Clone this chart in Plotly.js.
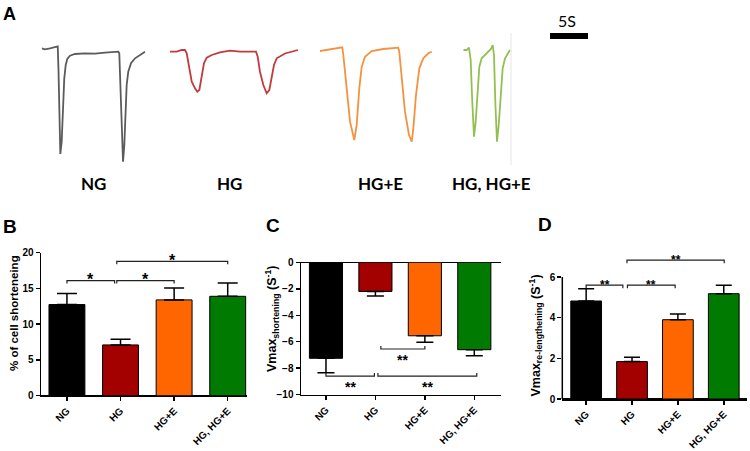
<!DOCTYPE html>
<html>
<head>
<meta charset="utf-8">
<script src="https://cdn.plot.ly/plotly-3.0.1.min.js"></script>
<style>html,body{margin:0;padding:0;background:#fff;}#chart{width:750px;height:451px;}</style>
</head>
<body>
<div id="chart"></div>
<script>
// ---------- Data ----------
const categories = ['NG', 'HG', 'HG+E', 'HG, HG+E'];
const barColors = ['#000000', '#a30000', '#ff6600', '#007a00'];

// B: % of cell shortening
const shortening = [12.75, 7.1, 13.4, 13.9];
const shorteningErr = [1.55, 0.8, 1.65, 1.85];
// C: Vmax shortening (S^-1)
const vmaxShort = [-7.25, -2.2, -5.55, -6.6];
const vmaxShortErr = [1.1, 0.35, 0.48, 0.45];
// D: Vmax re-lengthening (S^-1)
const vmaxRelen = [4.82, 1.84, 3.9, 5.18];
const vmaxRelenErr = [0.6, 0.21, 0.28, 0.42];

// axis titles
const titleB = '% of cell shorteneing';
const titleC = 'Vmax<sub>shortening</sub> (S<sup>-1</sup>)';
const titleD = 'Vmax<sub>re-lengthening</sub> (S<sup>-1</sup>)';

// significance brackets: [x start, x end, level, label]
const bracketsB = [[0, 0.89, 16.1, '*'], [0.93, 2, 16.1, '*'], [0.93, 3, 18.8, '*']];
const bracketsC = [[0, 0.98, -8.6, '**'], [1.11, 2, -6.55, '**'], [1.05, 3.05, -8.6, '**']];
const bracketsD = [[0, 0.8, 5.6, '**'], [0.9, 1.94, 5.6, '**'], [0.89, 3.01, 6.83, '**']];

// A: representative cell length traces (time in s, length change in a.u.)
const ngTime = [0, 0.43, 1.09, 1.75, 2.11, 2.21, 2.34, 2.45, 2.63, 2.84, 2.97, 3.16, 3.37, 3.72, 4.38, 5.7, 7.01, 8.33, 9.64, 10.08, 10.21, 10.34, 10.53, 10.7, 10.87, 11.0, 11.18, 11.39, 11.75, 12.28, 12.93, 13.59];
const ngLen = [1.7, 0.7, 1.7, 2.7, 3.7, -20, -70, -104, -91.7, -51.7, -28.3, -15, -9, -5.7, -4, -3.3, -3.7, -2.7, -2, -1.7, -3.3, -35, -85, -111.7, -95, -61.7, -35, -21.7, -13.3, -8.3, -5, -1.7];
const hgTime = [0, 0.88, 1.54, 1.97, 2.2, 2.54, 2.86, 3.29, 3.59, 3.86, 4.17, 4.47, 4.83, 5.49, 6.58, 7.89, 9.21, 11.32, 11.54, 11.84, 12.28, 12.72, 13.07, 13.38, 13.68, 14.04, 15.13, 16.84];
const hgLen = [-1.7, -1.7, 0, 0, -3.3, -18.3, -31.7, -38.3, -41.7, -40, -28.3, -13.3, -7.7, -5, -2.3, -0.7, -1.7, -1.7, -6.7, -21.7, -35, -43.3, -40, -28.3, -15, -8.3, -3.5, 0];
const hgeTime = [0, 1.32, 2.93, 3.07, 3.51, 3.95, 4.51, 4.83, 5.17, 5.49, 5.92, 6.8, 8.33, 10.3, 10.43, 10.75, 11.18, 11.71, 12.07, 12.28, 12.63, 13.07, 13.59, 14.25, 14.7];
const hgeLen = [-1, 1, 2.7, -5, -41.7, -71.7, -90, -75, -38.3, -16.7, -6.7, -1, 1, 2.3, -1.7, -28.3, -61.7, -85, -91.7, -78.3, -45, -18.3, -8.3, -3.3, -1.7];
const hghgeTime = [0, 0.45, 0.75, 0.97, 1.18, 1.41, 1.63, 1.89, 2.11, 2.42, 3.08, 3.64, 3.87, 4.04, 4.21, 4.43, 4.66, 4.92, 5.18, 5.49, 5.92, 6.14];
const hghgeLen = [0, 0, 2.3, -10, -51.7, -86.7, -71.7, -38.3, -16.7, -8.3, -3.3, 1, 5, -5, -51.7, -91.7, -75, -45, -18.3, -8.3, -2.3, 0];
const traceLabels = ['NG', 'HG', 'HG+E', 'HG, HG+E'];
const traceColors = ['#5b5b5b', '#c23b3b', '#f59240', '#92c050'];
const scaleBarTime = [0, 5];
const scaleBarLevel = [14, 14];
const scaleBarLabel = '5S';

// ---------- Layout helpers ----------
const W = 750, H = 451;
const FONT = 'Liberation Sans, Arial, sans-serif';
const tickIdx = [0, 1, 2, 3];

function barTrace(vals, errs, xa, ya, errWidth, negative) {
  const zeros = vals.map(() => 0);
  return {
    type: 'bar', x: tickIdx, y: vals, xaxis: xa, yaxis: ya, width: 0.67,
    marker: {color: barColors, line: {color: '#000', width: 1}},
    error_y: {type: 'data', symmetric: false,
      array: negative ? zeros : errs, arrayminus: negative ? errs : zeros,
      color: '#000', thickness: 1.5, width: errWidth},
    hoverinfo: 'skip'
  };
}

const data = [
  barTrace(shortening, shorteningErr, 'x', 'y', 10, false),
  barTrace(vmaxShort, vmaxShortErr, 'x2', 'y2', 8.5, true),
  barTrace(vmaxRelen, vmaxRelenErr, 'x3', 'y3', 8, false)
];

const traceSets = [[ngTime, ngLen], [hgTime, hgLen], [hgeTime, hgeLen], [hghgeTime, hghgeLen]];
traceSets.forEach((s, i) => {
  data.push({type: 'scatter', mode: 'lines', name: traceLabels[i], x: s[0], y: s[1], xaxis: 'x' + (4 + i), yaxis: 'y4',
    line: {color: traceColors[i], width: 1.8}, hoverinfo: 'skip'});
});
data.push({type: 'scatter', mode: 'lines', x: scaleBarTime, y: scaleBarLevel, xaxis: 'x8', yaxis: 'y4',
  line: {color: '#000', width: 6}, hoverinfo: 'skip'});

function catAxis(domainPx, range, anchor) {
  return {
    anchor: anchor, domain: [domainPx[0] / W, domainPx[1] / W], range: range, type: 'linear',
    tickvals: tickIdx, ticktext: categories, tickangle: -45,
    showline: true, linecolor: '#000', linewidth: 1.5,
    ticks: 'outside', ticklen: 4, tickwidth: 1.5, tickcolor: '#000',
    showgrid: false, zeroline: false, fixedrange: true,
    tickfont: {family: FONT, size: 10, color: '#000', weight: 'bold'}
  };
}
function valAxis(anchor, yTopPx, yBotPx, range, tickvals, showline) {
  return {
    anchor: anchor, domain: [1 - yBotPx / H, 1 - yTopPx / H], range: range,
    tickvals: tickvals, showline: showline, linecolor: '#000', linewidth: 1.5,
    ticks: 'outside', ticklen: 4, tickwidth: 1.5, tickcolor: '#000',
    showgrid: false, zeroline: true, zerolinecolor: '#000', zerolinewidth: 1.5, fixedrange: true,
    tickfont: {family: FONT, size: 10, color: '#000', weight: 'bold'}
  };
}

// A-panel trace axes: same time scale (7.6 px per s)
const aStarts = [41.7, 170, 320, 463.3, 550];
const aRange = 17.5, pxPerS = 7.6;

const layout = {
  width: W, height: H, margin: {l: 0, r: 0, t: 0, b: 0},
  paper_bgcolor: '#fff', plot_bgcolor: 'rgba(0,0,0,0)', showlegend: false,
  font: {family: FONT, color: '#000'},
  xaxis: catAxis([41, 247], [-0.484, 3.36], 'y'),
  yaxis: valAxis('x', 252.7, 395.7, [0, 20], [0, 5, 10, 15, 20], true),
  xaxis2: catAxis([301, 501], [-0.505, 3.54], 'y2'),
  yaxis2: valAxis('x2', 262.3, 394.7, [-10, 0], [0, -2, -4, -6, -8, -10], true),
  xaxis3: catAxis([562.3, 746.7], [-0.52, 3.5], 'y3'),
  yaxis3: valAxis('x3', 399 - 7 * 20.33, 399, [0, 7], [0, 2, 4, 6], false),
  yaxis4: {anchor: 'x4', domain: [1 - 175 / H, 1 - 10 / H], range: [-125, 40], visible: false, fixedrange: true},
  shapes: [],
  annotations: []
};
aStarts.forEach((s, i) => {
  layout['xaxis' + (4 + i)] = {anchor: 'y4', domain: [s / W, (s + aRange * pxPerS) / W], range: [0, aRange], visible: false, fixedrange: true};
});

// D y axis line stops at 6
layout.shapes.push({type: 'line', xref: 'paper', yref: 'y3', x0: 562.3 / W, x1: 562.3 / W, y0: 0, y1: 6, line: {color: '#000', width: 1.5}});
// faint frame line at the right of panel A
layout.shapes.push({type: 'line', xref: 'paper', yref: 'paper', x0: 511 / W, x1: 511 / W, y0: 1 - 165 / H, y1: 1 - 33 / H, line: {color: '#e6e6e6', width: 1}});

function addBrackets(list, xa, ya, tick, up, starSize, yshift) {
  list.forEach(b => {
    const [x1, x2, lv, lab] = b;
    const d = up ? tick : -tick;
    layout.shapes.push({type: 'path', xref: xa, yref: ya,
      path: `M${x1},${lv + d} L${x1},${lv} L${x2},${lv} L${x2},${lv + d}`,
      line: {color: '#222', width: 1.2}});
    layout.annotations.push({xref: xa, yref: ya, x: (x1 + x2) / 2, y: lv, text: lab, showarrow: false,
      xanchor: 'center', yanchor: 'middle', yshift: yshift,
      font: {family: FONT, size: starSize, color: '#000', weight: 'bold'}});
  });
}
addBrackets(bracketsB, 'x', 'y', 0.42, false, 16, 1);
addBrackets(bracketsC, 'x2', 'y2', 0.23, true, 14, -11);
addBrackets(bracketsD, 'x3', 'y3', 0.15, false, 12, 0);

// Y axis titles (rotated)
[[titleB, 14, 313, 11.5], [titleC, 272, 319, 12.5], [titleD, 535.5, 336, 12.5]].forEach(t => {
  layout.annotations.push({xref: 'paper', yref: 'paper', x: t[1] / W, y: 1 - t[2] / H, text: t[0], textangle: -90,
    showarrow: false, xanchor: 'center', yanchor: 'middle',
    font: {family: FONT, size: t[3], color: '#000', weight: 'bold'}});
});

// Panel letters
[['A', 9.5, 14, 18], ['B', 9.5, 226.5, 19], ['C', 272.5, 225, 19], ['D', 545, 224.5, 19]].forEach(p => {
  layout.annotations.push({xref: 'paper', yref: 'paper', x: p[1] / W, y: 1 - p[2] / H, text: p[0], showarrow: false,
    xanchor: 'center', yanchor: 'middle', font: {family: FONT, size: p[3], color: '#000', weight: 'bold'}});
});
// Trace labels
[93, 230, 380, 491.7].forEach((px, i) => {
  layout.annotations.push({xref: 'paper', yref: 'paper', x: px / W, y: 1 - 183 / H, text: traceLabels[i], showarrow: false,
    xanchor: 'center', yanchor: 'middle', font: {family: 'Lato, Liberation Sans, sans-serif', size: 17, color: '#000', weight: 'bold'}});
});
// Scale bar label
layout.annotations.push({xref: 'x8', yref: 'y4', x: 2.3, y: 30, text: scaleBarLabel, showarrow: false,
  xanchor: 'center', yanchor: 'middle', font: {family: 'Lato, Liberation Sans, sans-serif', size: 16, color: '#000'}});

Plotly.newPlot('chart', data, layout, {staticPlot: true, displayModeBar: false});
</script>
</body>
</html>
